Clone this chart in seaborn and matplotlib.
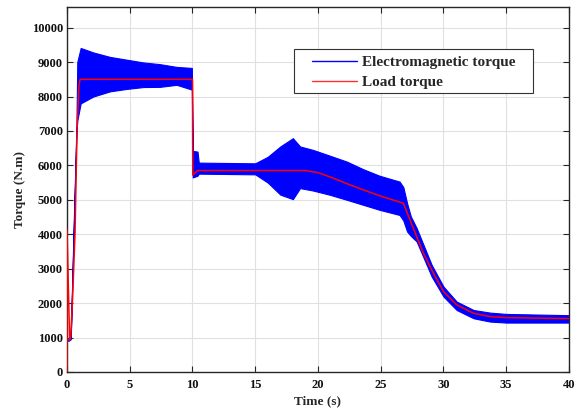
import numpy as np
import pandas as pd
import matplotlib
matplotlib.use("Agg")
import matplotlib.pyplot as plt
from matplotlib.lines import Line2D
from matplotlib.patches import Rectangle
import seaborn as sns

# Electromagnetic torque: envelope of the fast oscillation band
em_time = [0.10, 0.30, 0.55, 0.75, 0.82, 1.09, 2.10, 3.43, 4.75, 6.08, 7.40, 8.74, 9.95,
           10.02, 10.40, 10.50, 15.0, 16.0, 17.0, 18.0, 18.57, 19.6, 20.96, 22.3, 23.6,
           24.9, 26.5, 26.8, 27.1, 27.4, 27.86, 29.06, 30.0, 31.05, 32.4, 33.7, 35.0, 40.0]
em_upper = [950, 1050, 4500, 7100, 9000, 9410, 9280, 9150, 9070, 8990, 8940, 8860, 8830,
            6420, 6400, 6080, 6060, 6250, 6550, 6790, 6550, 6450, 6280, 6110, 5890,
            5700, 5530, 5370, 4900, 4515, 4180, 3110, 2480, 2045, 1800, 1725, 1686, 1650]
em_lower = [900, 950, 4300, 6900, 7300, 7800, 8000, 8150, 8220, 8275, 8280, 8340, 8200,
            5650, 5700, 5760, 5740, 5500, 5150, 5020, 5340, 5270, 5145, 5000, 4855,
            4710, 4560, 4400, 4080, 3950, 3790, 2770, 2190, 1800, 1560, 1465, 1435, 1435]

# Load torque
load_time = [0.0, 0.0, 0.21, 0.30, 0.43, 0.64, 0.80, 0.95, 1.04, 10.0, 10.02, 10.4,
             19.0, 20.0, 21.0, 22.3, 23.6, 24.9, 26.8, 27.86, 28.4, 29.06, 30.0, 31.05,
             32.4, 33.7, 35.0, 40.0]
load_values = [0, 4130, 930, 1050, 2000, 4030, 7035, 8300, 8500, 8500, 5720, 5850,
               5850, 5790, 5660, 5470, 5290, 5120, 4900, 3935, 3450, 2965, 2335, 1950,
               1705, 1610, 1580, 1550]

x_ticks = [0, 5, 10, 15, 20, 25, 30, 35, 40]
y_ticks = [0, 1000, 2000, 3000, 4000, 5000, 6000, 7000, 8000, 9000, 10000]

sns.set_theme(style="whitegrid")
plt.rcParams['font.family'] = ['Liberation Serif', 'DejaVu Serif']
plt.rcParams['font.weight'] = 'bold'

fig = plt.figure(figsize=(5.79, 4.11), dpi=100)
ax = fig.add_axes([0.1157, 0.0949, 0.8670, 0.8881])

em_df = pd.DataFrame({"t": em_time, "up": em_upper, "lo": em_lower})
load_df = pd.DataFrame({"t": load_time, "v": load_values})

ax.fill_between(em_df["t"], em_df["lo"], em_df["up"], color="#0000ff", linewidth=0.8,
                edgecolor="#0000ff", zorder=2)
sns.lineplot(data=load_df, x="t", y="v", estimator=None, sort=False, color="#ff0000",
             linewidth=1.1, ax=ax, zorder=3)

ax.set_xlim(0, 40)
ax.set_ylim(0, 10600)
ax.set_xticks(x_ticks)
ax.set_yticks(y_ticks)
ax.set_xticklabels([str(v) for v in x_ticks], fontsize=9, fontweight='bold')
ax.set_yticklabels([str(v) for v in y_ticks], fontsize=9, fontweight='bold')
ax.set_xlabel("Time (s)", fontsize=9.5, fontweight='bold', labelpad=3)
ax.set_ylabel("Torque (N.m)", fontsize=9.5, fontweight='bold', labelpad=4)

ax.grid(True, color="#e0e0e0", linewidth=0.8)
ax.set_axisbelow(True)
for s in ax.spines.values():
    s.set_visible(True)
    s.set_color("#262626")
    s.set_linewidth(1.0)
ax.tick_params(axis='x', pad=5)
ax.tick_params(axis='y', pad=3)
ax.tick_params(direction='in', length=4, width=0.8, color="#262626",
               top=True, right=True, bottom=True, left=True, labelcolor="#111111")
ax.set_facecolor("white")

# legend frame (box drawn separately to match the wide side padding)
ax.add_patch(Rectangle((0.452, 0.7636), 0.476, 0.1204, transform=ax.transAxes,
                       facecolor="white", edgecolor="#333333", linewidth=0.8, zorder=4))
handles = [Line2D([0], [0], color="#0000ff", linewidth=1.0),
           Line2D([0], [0], color="#ff3030", linewidth=1.0)]
leg = ax.legend(handles, ["Electromagnetic torque", "Load torque"],
                loc="center left", bbox_to_anchor=(0.489, 0.8205),
                prop={'weight': 'bold', 'size': 11}, frameon=False,
                handlelength=2.9, handletextpad=0.35, borderpad=0.0,
                borderaxespad=0.0, labelspacing=0.4)
leg.set_zorder(5)

fig.savefig("out.png", dpi=100)
